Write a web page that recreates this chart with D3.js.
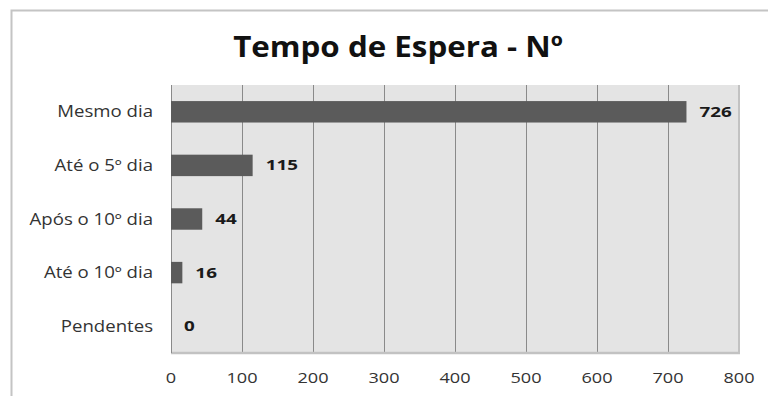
<!DOCTYPE html>
<html>
<head>
<meta charset="utf-8">
<script src="https://cdn.jsdelivr.net/npm/d3@7"></script>
<style>
  body { margin: 0; background: #fff; }
  text { font-family: "Open Sans", "DejaVu Sans", sans-serif; }
</style>
</head>
<body>
<svg class="chart" width="768" height="396"></svg>
<script>
// Chart data.
let categories = ["Mesmo dia", "Até o 5º dia", "Após o 10º dia", "Até o 10º dia", "Pendentes"];
let counts = [726, 115, 44, 16, 0];
let xTicks = [0, 100, 200, 300, 400, 500, 600, 700, 800];
let chartTitle = "Tempo de Espera - Nº";

function drawWaitChart(svgClass) {
    let svg = d3.select(svgClass);

    let plot = { left: 171, right: 739, top: 85, bottom: 353 };

    // Outer frame (only top and left edges visible).
    svg.append("path")
        .attr("d", "M11.5,396 L11.5,10.5 L768,10.5")
        .attr("fill", "none")
        .attr("stroke", "#c4c4c4")
        .attr("stroke-width", 2);

    // Title.
    svg.append("text")
        .attr("transform", "translate(398,57) scale(1.08,1)")
        .attr("text-anchor", "middle")
        .attr("font-size", 29)
        .attr("font-weight", "bold")
        .attr("fill", "#111")
        .text(chartTitle);

    // Setup scales.
    let xScale = d3.scaleLinear()
        .domain([0, 800])
        .range([plot.left, plot.right]);

    let yScale = d3.scaleBand()
        .domain(categories)
        .range([plot.top, plot.bottom])
        .paddingInner(0.6)
        .paddingOuter(0.3);

    // Plot background.
    svg.append("rect")
        .attr("x", plot.left)
        .attr("y", plot.top)
        .attr("width", plot.right - plot.left)
        .attr("height", plot.bottom - plot.top)
        .attr("fill", "#e4e4e4");

    // Vertical gridlines.
    svg.append("g")
        .selectAll("line")
        .data(xTicks.slice(1, -1))
        .join("line")
        .attr("x1", d => Math.round(xScale(d)) + 0.5)
        .attr("x2", d => Math.round(xScale(d)) + 0.5)
        .attr("y1", plot.top)
        .attr("y2", plot.bottom)
        .attr("stroke", "#8a8a8a")
        .attr("stroke-width", 1);

    // Right and bottom edges of the plot area.
    svg.append("line")
        .attr("x1", plot.right).attr("x2", plot.right)
        .attr("y1", plot.top).attr("y2", plot.bottom)
        .attr("stroke", "#c2c2c2").attr("stroke-width", 2);
    svg.append("line")
        .attr("x1", plot.left).attr("x2", plot.right + 1)
        .attr("y1", plot.bottom).attr("y2", plot.bottom)
        .attr("stroke", "#c2c2c2").attr("stroke-width", 2.5);
    svg.append("line")
        .attr("x1", plot.left + 0.5).attr("x2", plot.left + 0.5)
        .attr("y1", plot.top).attr("y2", plot.bottom)
        .attr("stroke", "#8a8a8a").attr("stroke-width", 1);

    // Bars.
    svg.append("g")
        .selectAll("rect")
        .data(categories)
        .join("rect")
        .attr("x", xScale(0))
        .attr("y", d => yScale(d))
        .attr("width", (d, i) => xScale(counts[i]) - xScale(0))
        .attr("height", yScale.bandwidth())
        .attr("fill", "#5b5b5b");

    // Value labels.
    svg.append("g")
        .selectAll("text")
        .data(categories)
        .join("text")
        .attr("transform", (d, i) => "translate(" + (xScale(counts[i]) + 13) + "," + (yScale(d) + yScale.bandwidth() / 2 + 5) + ") scale(1.3,1)")
        .attr("font-size", 14.5)
        .attr("font-weight", "bold")
        .attr("fill", "#1a1a1a")
        .text((d, i) => counts[i]);

    // Category labels.
    svg.append("g")
        .selectAll("text")
        .data(categories)
        .join("text")
        .attr("transform", d => "translate(" + (plot.left - 18) + "," + (yScale(d) + yScale.bandwidth() / 2 + 5.5) + ") scale(1.2,1)")
        .attr("text-anchor", "end")
        .attr("font-size", 15.5)
        .attr("fill", "#333")
        .text(d => d);

    // Bottom tick labels.
    svg.append("g")
        .selectAll("text")
        .data(xTicks)
        .join("text")
        .attr("transform", d => "translate(" + xScale(d) + ",383) scale(1.25,1)")
        .attr("text-anchor", "middle")
        .attr("font-size", 14.5)
        .attr("fill", "#333")
        .text(d => d);
}

drawWaitChart(".chart");
</script>
</body>
</html>
